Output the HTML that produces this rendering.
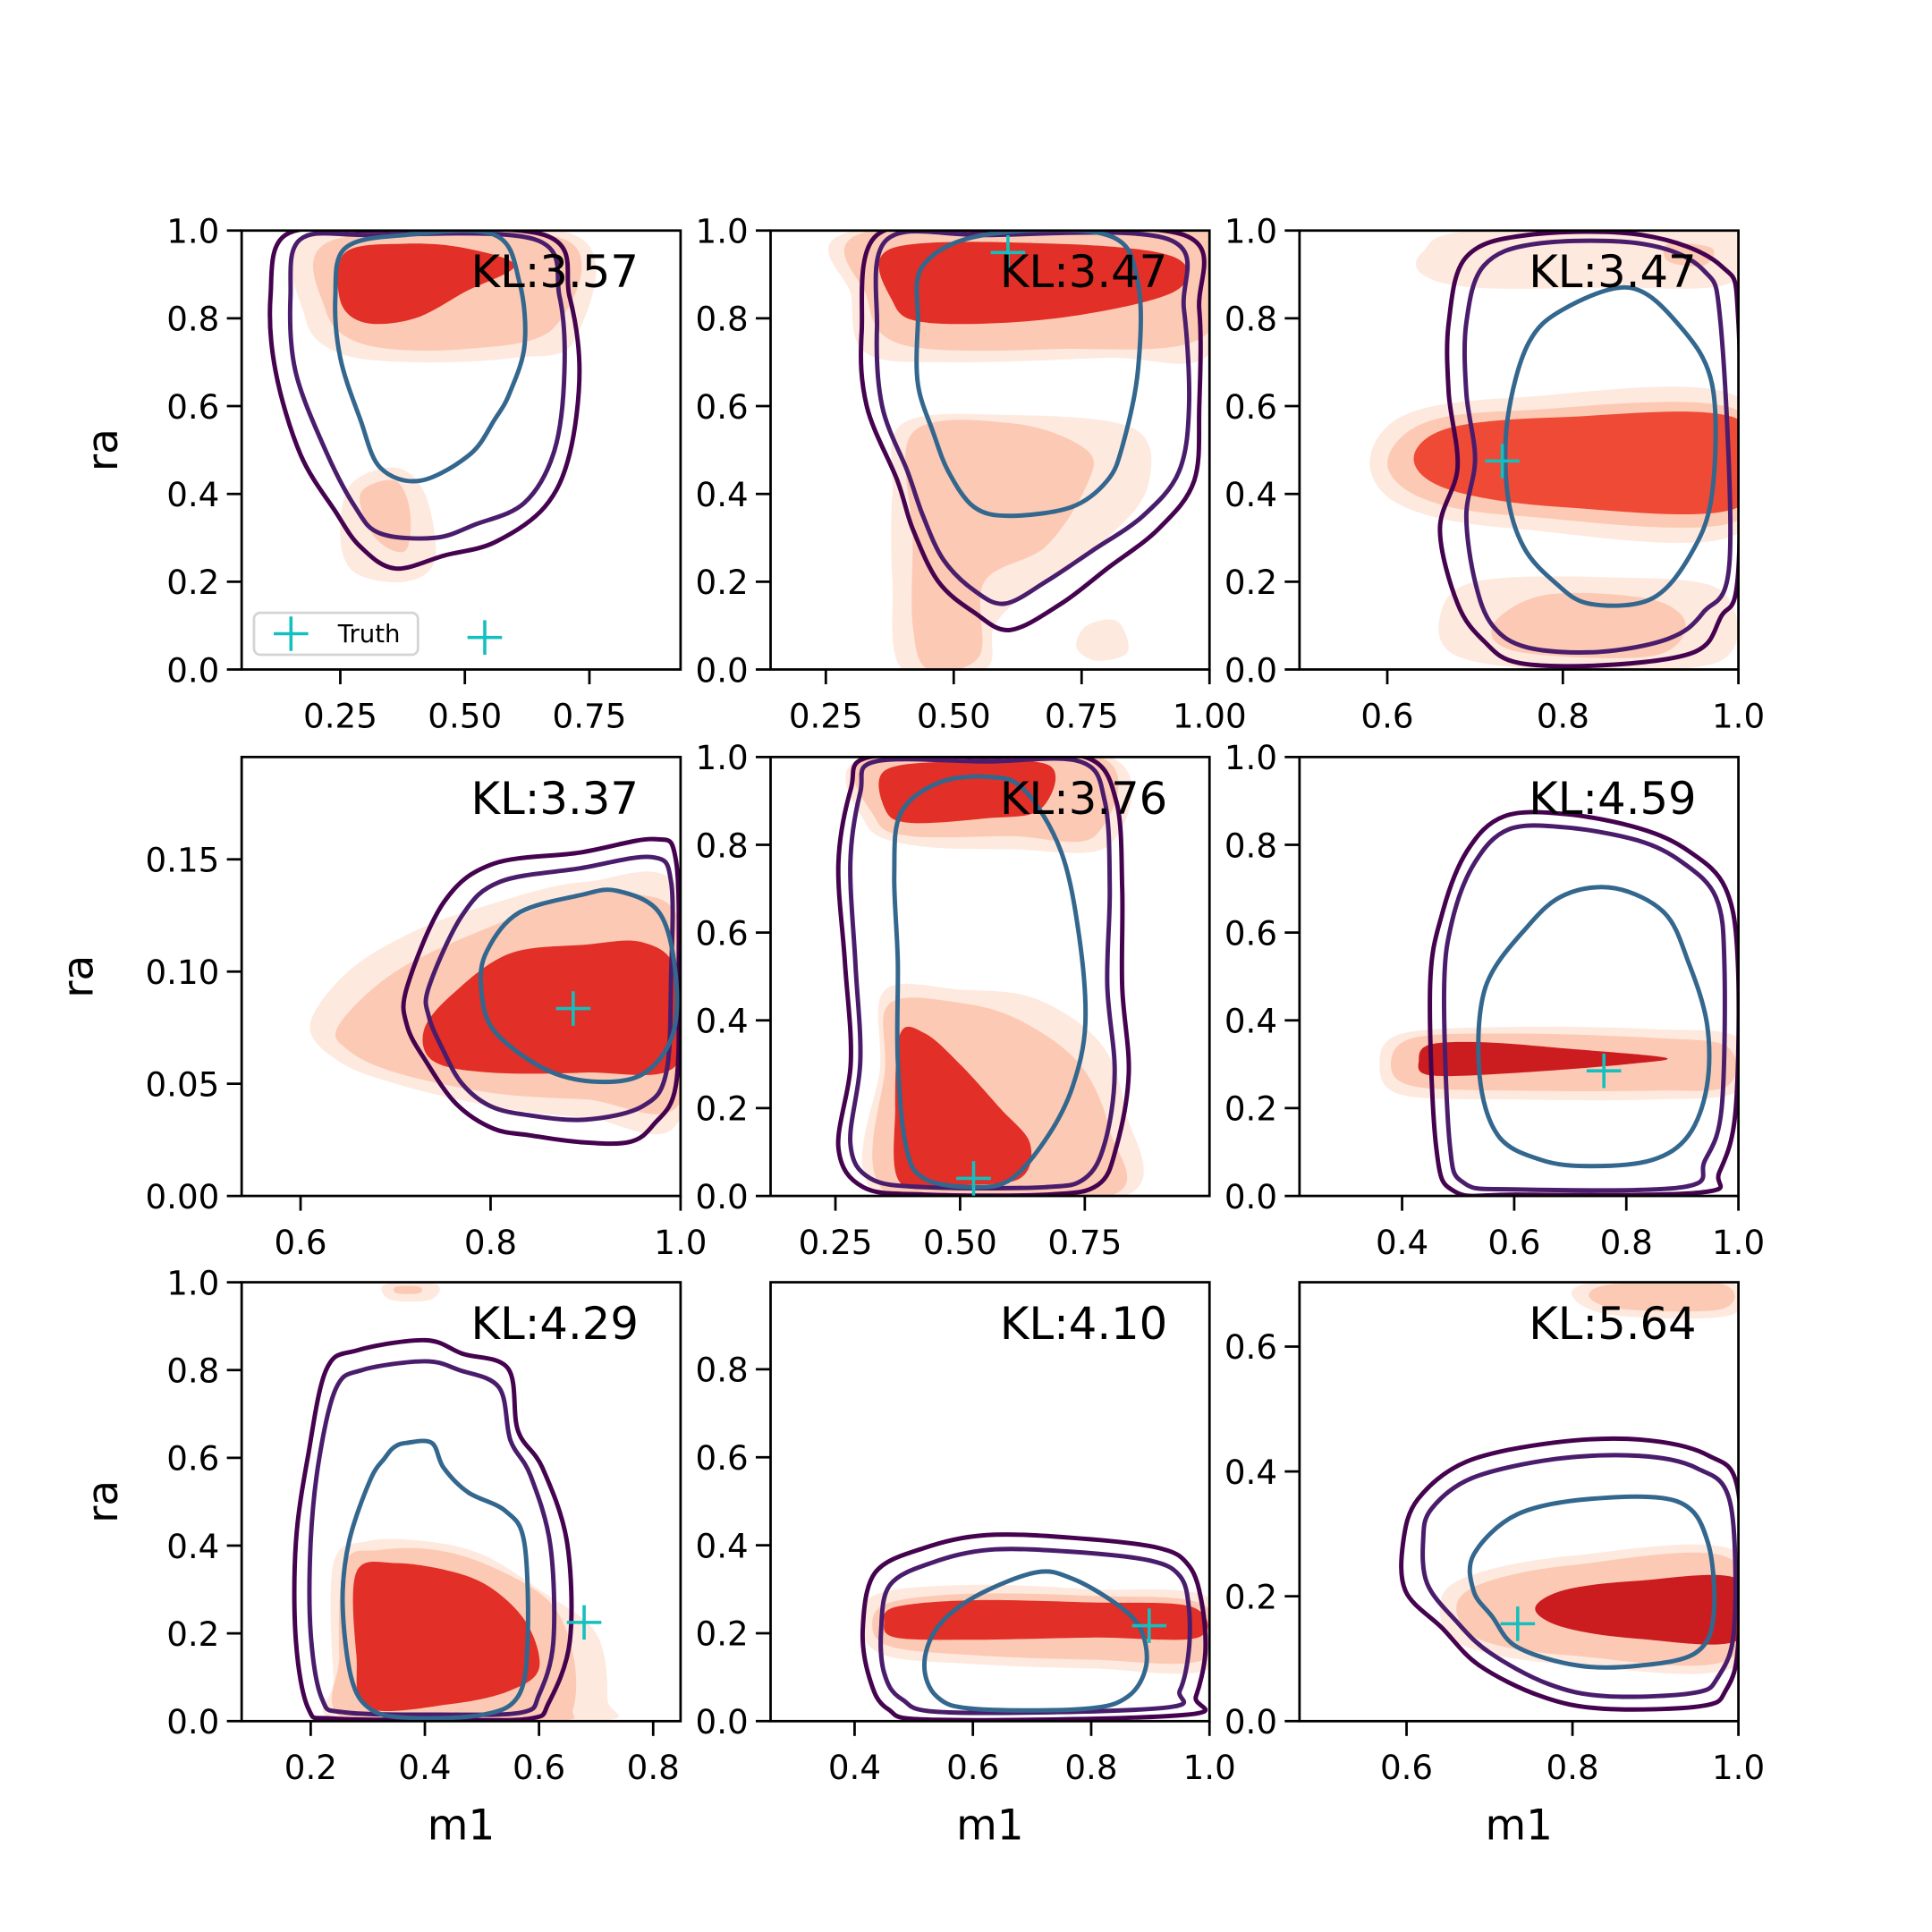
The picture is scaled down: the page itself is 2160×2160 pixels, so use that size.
<!DOCTYPE html>
<html><head><meta charset="utf-8"><title>Posterior contour grid</title>
<style>html,body{margin:0;padding:0;background:#fff}svg{display:block}text{font-family:"DejaVu Sans","Liberation Sans",sans-serif}</style>
</head><body>
<svg id="chart" xmlns="http://www.w3.org/2000/svg" width="2160" height="2160" viewBox="0 0 1567 1567"></svg>
<script>
// ---- data ----
const klValues = ["3.57","3.47","3.47","3.37","3.76","4.59","4.29","4.10","5.64"];
const truthX = [0.54,0.606,0.731,0.887,0.527,0.76,0.679,0.898,0.734];
const truthY = [0.073,0.95,0.475,0.0835,0.04,0.285,0.225,0.217,0.156];
const xLims = [[0.052,0.933],[0.142,1.0],[0.5,1.0],[0.538,1.0],[0.12,1.0],[0.217,1.0],[0.079,0.848],[0.258,1.0],[0.471,1.0]];
const yLims = [[0,1],[0,1],[0,1],[0,0.1956],[0,1],[0,1],[0,1],[0,0.998],[0,0.703]];
const xTicks = [[0.25,0.5,0.75],[0.25,0.5,0.75,1.0],[0.6,0.8,1.0],[0.6,0.8,1.0],[0.25,0.5,0.75],[0.4,0.6,0.8,1.0],[0.2,0.4,0.6,0.8],[0.4,0.6,0.8,1.0],[0.6,0.8,1.0]];
const xTickLabels = [["0.25","0.50","0.75"],["0.25","0.50","0.75","1.00"],["0.6","0.8","1.0"],["0.6","0.8","1.0"],["0.25","0.50","0.75"],["0.4","0.6","0.8","1.0"],["0.2","0.4","0.6","0.8"],["0.4","0.6","0.8","1.0"],["0.6","0.8","1.0"]];
const yStd = [0,0.2,0.4,0.6,0.8,1.0];
const yStdLabels = ["0.0","0.2","0.4","0.6","0.8","1.0"];
const yTicks = [yStd,yStd,yStd,[0,0.05,0.1,0.15],yStd,yStd,yStd,[0,0.2,0.4,0.6,0.8],[0,0.2,0.4,0.6]];
const yTickLabels = [yStdLabels,yStdLabels,yStdLabels,["0.00","0.05","0.10","0.15"],yStdLabels,yStdLabels,yStdLabels,["0.0","0.2","0.4","0.6","0.8"],["0.0","0.2","0.4","0.6"]];

const outerContours = [
 [[.14,.99],[.31,1.0],[.66,.99],[.71,.85],[.73,.68],[.71,.49],[.66,.37],[.56,.29],[.46,.26],[.36,.23],[.29,.28],[.24,.36],[.17,.49],[.12,.68],[.11,.85]],
 [[.35,.99],[.56,1.0],[.95,.99],[.98,.82],[.98,.6],[.97,.43],[.9,.32],[.8,.23],[.71,.15],[.61,.09],[.54,.13],[.47,.2],[.42,.32],[.39,.43],[.33,.6],[.32,.77]],
 [[.69,.94],[.76,.99],[.89,.99],[.98,.92],[1.0,.79],[1.0,.23],[.98,.12],[.95,.04],[.85,.01],[.75,.015],[.71,.065],[.68,.15],[.66,.32],[.68,.46],[.67,.63],[.67,.79]],
 [[.712,.093],[.751,.131],[.803,.148],[.894,.153],[.972,.159],[.995,.15],[.998,.098],[.995,.049],[.972,.032],[.946,.024],[.894,.024],[.842,.027],[.803,.03],[.764,.041],[.732,.06],[.712,.076]],
 [[.281,.927],[.318,1],[.553,1],[.751,1],[.813,.9],[.825,.7],[.825,.476],[.838,.279],[.813,.11],[.776,.025],[.677,.003],[.429,.003],[.306,.02],[.256,.11],[.281,.307],[.269,.532],[.256,.758]],
 [[.516,.786],[.582,.865],[.692,.87],[.824,.837],[.911,.786],[.977,.701],[.999,.532],[.995,.194],[.966,.054],[.933,.008],[.604,.003],[.494,.01],[.461,.11],[.45,.476],[.472,.645]],
 [[.228,.803],[.282,.845],[.401,.868],[.466,.837],[.546,.803],[.563,.662],[.606,.577],[.649,.408],[.654,.183],[.617,.042],[.584,.006],[.433,.003],[.239,.006],[.196,.028],[.174,.183],[.174,.408],[.196,.61]],
 [[.435,.338],[.518,.394],[.623,.423],[.768,.417],[.914,.394],[.966,.352],[.987,.268],[.993,.155],[.977,.056],[.956,.014],[.539,.003],[.456,.028],[.425,.099],[.414,.211]],
 [[.614,.356],[.673,.416],[.777,.446],[.881,.451],[.963,.426],[1.0,.366],[1.0,.129],[.985,.05],[.955,.024],[.837,.02],[.762,.04],[.688,.089],[.643,.149],[.599,.208],[.596,.287]]
];
const middleContours = [
 [[.17,.98],[.31,.99],[.64,.98],[.69,.85],[.70,.68],[.68,.5],[.62,.38],[.52,.33],[.44,.3],[.33,.31],[.28,.37],[.22,.5],[.16,.68],[.15,.85]],
 [[.37,.98],[.56,.99],[.92,.98],[.95,.82],[.96,.6],[.94,.45],[.87,.35],[.77,.27],[.68,.2],[.6,.15],[.54,.18],[.48,.25],[.44,.35],[.41,.45],[.36,.6],[.35,.78]],
 [[.71,.92],[.77,.97],[.89,.97],[.96,.91],[.98,.78],[.99,.25],[.96,.13],[.92,.07],[.84,.04],[.76,.05],[.72,.1],[.7,.2],[.69,.35],[.7,.48],[.69,.63],[.69,.79]],
 [[.735,.093],[.77,.125],[.81,.14],[.894,.146],[.97,.151],[.99,.14],[.99,.098],[.985,.055],[.96,.04],[.9,.034],[.84,.036],[.8,.04],[.77,.05],[.75,.065],[.735,.08]],
 [[.3,.92],[.33,.99],[.55,.99],[.74,.99],[.79,.9],[.8,.7],[.795,.48],[.81,.28],[.79,.12],[.75,.04],[.67,.02],[.43,.02],[.32,.04],[.28,.12],[.3,.31],[.29,.53],[.28,.76]],
 [[.53,.76],[.59,.835],[.69,.84],[.82,.81],[.9,.76],[.96,.68],[.975,.53],[.97,.2],[.94,.08],[.9,.02],[.6,.015],[.51,.03],[.485,.12],[.475,.47],[.49,.63]],
 [[.245,.76],[.29,.8],[.4,.82],[.46,.8],[.53,.76],[.55,.64],[.585,.56],[.62,.4],[.625,.18],[.6,.06],[.57,.02],[.43,.015],[.26,.02],[.22,.05],[.2,.2],[.2,.41],[.215,.6]],
 [[.46,.31],[.53,.36],[.63,.39],[.77,.385],[.9,.365],[.95,.33],[.965,.26],[.965,.16],[.95,.07],[.92,.03],[.56,.02],[.48,.05],[.45,.11],[.445,.21]],
 [[.63,.34],[.68,.39],[.78,.42],[.88,.425],[.95,.405],[.99,.35],[.995,.15],[.975,.07],[.945,.045],[.84,.04],[.77,.06],[.7,.11],[.66,.16],[.625,.22],[.62,.29]]
];
const innerContours = [
 [[.26,.96],[.38,.99],[.56,.99],[.61,.88],[.62,.74],[.59,.63],[.56,.57],[.51,.49],[.41,.43],[.33,.46],[.29,.57],[.25,.71],[.24,.85]],
 [[.44,.92],[.56,.99],[.8,.99],[.86,.88],[.86,.68],[.83,.51],[.8,.43],[.73,.37],[.61,.35],[.54,.37],[.49,.45],[.46,.54],[.43,.65],[.43,.79]],
 [[.76,.74],[.8,.82],[.875,.87],[.93,.79],[.97,.65],[.97,.4],[.945,.26],[.9,.16],[.83,.15],[.79,.2],[.755,.28],[.737,.4],[.737,.57]],
 [[.796,.109],[.829,.126],[.894,.134],[.933,.136],[.978,.126],[.995,.098],[.991,.071],[.959,.054],[.907,.051],[.855,.057],[.803,.074],[.79,.093]],
 [[.38,.87],[.454,.94],[.553,.955],[.627,.927],[.702,.786],[.739,.589],[.751,.392],[.726,.251],[.677,.138],[.603,.039],[.528,.02],[.429,.039],[.392,.11],[.375,.307],[.375,.532],[.368,.73]],
 [[.626,.617],[.692,.687],[.78,.701],[.868,.645],[.911,.532],[.944,.392],[.944,.251],[.911,.138],[.846,.082],[.736,.068],[.648,.082],[.571,.138],[.538,.279],[.549,.476]],
 [[.267,.408],[.304,.549],[.33,.6],[.347,.625],[.368,.634],[.412,.634],[.433,.577],[.476,.521],[.541,.479],[.574,.408],[.58,.183],[.563,.056],[.498,.014],[.368,.008],[.304,.028],[.271,.099],[.256,.268]],
 [[.539,.211],[.602,.282],[.706,.338],[.768,.324],[.841,.268],[.883,.211],[.893,.127],[.862,.056],[.789,.028],[.602,.028],[.539,.056],[.518,.127]],
 [[.681,.267],[.733,.331],[.822,.356],[.926,.352],[.963,.287],[.97,.168],[.948,.109],[.881,.089],[.807,.089],[.733,.119],[.703,.168],[.681,.208]]
];
const lightFills = [
 [[[.2,.99],[.72,.99],[.72,.75],[.6,.71],[.4,.7],[.25,.72],[.18,.8]],[[.27,.42],[.36,.46],[.42,.4],[.44,.25],[.38,.2],[.28,.22],[.25,.3]]],
 [[[.31,1],[1,1],[1,.72],[.8,.71],[.5,.7],[.33,.72],[.3,.85]],[[.4,.56],[.6,.58],[.85,.55],[.88,.42],[.8,.3],[.65,.18],[.58,.1],[.56,0],[.4,0],[.38,.2],[.38,.4]],[[.76,.1],[.82,.11],[.84,.04],[.78,.02],[.74,.05]]],
 [[[.58,.47],[.62,.58],[.75,.62],[1,.62],[1,.31],[.75,.32],[.62,.37]],[[.64,.95],[.7,1],[.99,1],[.99,.88],[.85,.87],[.7,.87],[.64,.9]],[[.66,.12],[.7,.2],[.85,.21],[.98,.18],[.98,.02],[.8,0],[.68,.03]]],
 [[[.61,.076],[.65,.1],[.72,.118],[.8,.13],[.9,.14],[1,.135],[1,.035],[.9,.035],[.8,.04],[.7,.05],[.64,.06]]],
 [[[.31,1],[.8,1],[.8,.8],[.6,.79],[.4,.8],[.31,.85]],[[.35,.47],[.5,.47],[.65,.45],[.78,.35],[.83,.2],[.83,0],[.34,0],[.34,.3]]],
 [[[.36,.3],[.4,.37],[.6,.385],[.85,.38],[1,.36],[1,.24],[.85,.22],[.6,.22],[.4,.23]]],
 [[[.24,.36],[.3,.41],[.4,.41],[.5,.38],[.6,.3],[.7,.2],[.72,.05],[.7,0],[.26,0],[.24,.1]],[[.33,.995],[.42,.995],[.41,.96],[.34,.96]]],
 [[[.41,.22],[.44,.29],[.6,.31],[.8,.3],[1,.28],[1,.12],[.8,.12],[.6,.13],[.45,.15]]],
 [[[.64,.18],[.67,.23],[.8,.265],[1,.27],[1,.09],[.8,.09],[.67,.12]],[[.8,.68],[.83,.703],[.99,.703],[.99,.65],[.85,.65]]]
];
const midFills = [
 [[[.24,.98],[.7,.98],[.68,.78],[.5,.73],[.3,.74],[.22,.82]],[[.29,.4],[.36,.43],[.39,.36],[.38,.27],[.32,.3]]],
 [[[.34,1],[.99,1],[.99,.76],[.7,.73],[.4,.74],[.33,.85]],[[.42,.54],[.62,.56],[.76,.5],[.76,.42],[.68,.28],[.56,.2],[.55,.03],[.45,0],[.42,.1],[.42,.3]]],
 [[[.6,.47],[.64,.56],[.75,.59],[1,.59],[1,.34],[.75,.35],[.64,.39]],[[.92,.97],[.97,.96],[.96,.92],[.92,.93]],[[.72,.1],[.78,.17],[.9,.16],[.94,.1],[.9,.03],[.75,.04]]],
 [[[.64,.076],[.7,.1],[.8,.12],[.9,.135],[.95,.135],[1,.12],[1,.042],[.9,.043],[.8,.046],[.7,.055],[.65,.065]]],
 [[[.32,1],[.78,1],[.77,.82],[.6,.82],[.4,.82],[.33,.86]],[[.36,.44],[.5,.44],[.62,.4],[.74,.3],[.8,.15],[.8,0],[.36,0],[.35,.3]]],
 [[[.38,.3],[.42,.36],[.6,.37],[.85,.36],[.98,.34],[.98,.25],[.85,.24],[.6,.24],[.42,.25]]],
 [[[.26,.36],[.32,.39],[.42,.39],[.52,.35],[.62,.27],[.66,.15],[.66,.03],[.62,0],[.27,0],[.25,.15]],[[.35,.99],[.39,.99],[.39,.975],[.35,.975]]],
 [[[.43,.22],[.46,.27],[.6,.29],[.8,.285],[.99,.265],[.99,.14],[.8,.14],[.6,.15],[.46,.17]]],
 [[[.66,.18],[.69,.22],[.8,.25],[.99,.26],[.99,.1],[.8,.105],[.69,.13]],[[.82,.68],[.85,.7],[.98,.7],[.98,.66],[.86,.66]]]
];
const darkFills = [
 [[[.26,.95],[.38,.97],[.5,.96],[.6,.92],[.5,.86],[.4,.8],[.3,.79],[.25,.84]]],
 [[[.38,.96],[.7,.97],[.93,.94],[.93,.86],[.7,.8],[.45,.79],[.38,.84]]],
 [[[.63,.48],[.67,.55],[.8,.575],[1,.57],[1,.37],[.8,.37],[.67,.41]]],
 [[[.73,.074],[.76,.09],[.82,.108],[.9,.112],[.96,.113],[.995,.1],[.995,.058],[.9,.055],[.8,.055],[.74,.06]]],
 [[[.35,.97],[.5,.99],[.68,.98],[.66,.88],[.55,.86],[.4,.85],[.35,.88]],[[.38,.37],[.43,.37],[.5,.3],[.58,.2],[.64,.12],[.62,.04],[.5,.025],[.38,.03],[.37,.2]]],
 [[[.43,.31],[.45,.345],[.55,.35],[.7,.335],[.87,.315],[.8,.3],[.6,.28],[.45,.275]]],
 [[[.28,.34],[.35,.36],[.45,.34],[.52,.3],[.58,.22],[.6,.12],[.55,.07],[.45,.04],[.3,.03],[.28,.15]]],
 [[[.45,.225],[.47,.26],[.6,.275],[.8,.27],[.97,.26],[.98,.19],[.8,.19],[.6,.185],[.47,.19]]],
 [[[.755,.18],[.79,.21],[.88,.225],[1,.227],[1,.13],[.88,.132],[.79,.15]]]
];

// ---- layout ----
const colX = [196,625,1054], rowY = [187,614,1040], W = 356, H = 356;
const darkColors = ["#e22f27","#e22f27","#ef4a36","#e22f27","#e22f27","#cb1d1f","#e22f27","#e22f27","#cb1d1f"];
const NS = "http://www.w3.org/2000/svg";
const svg = document.getElementById("chart");
function mk(tag, attrs, parent){ const e=document.createElementNS(NS,tag); for(const k in attrs) e.setAttribute(k,attrs[k]); (parent||svg).appendChild(e); return e; }
function smoothPath(pts){
  const n=pts.length; let d="M"+pts[0][0].toFixed(1)+","+pts[0][1].toFixed(1);
  for(let i=0;i<n;i++){
    const p0=pts[(i-1+n)%n],p1=pts[i],p2=pts[(i+1)%n],p3=pts[(i+2)%n];
    const c1=[p1[0]+(p2[0]-p0[0])/6,p1[1]+(p2[1]-p0[1])/6];
    const c2=[p2[0]-(p3[0]-p1[0])/6,p2[1]-(p3[1]-p1[1])/6];
    d+="C"+c1[0].toFixed(1)+","+c1[1].toFixed(1)+" "+c2[0].toFixed(1)+","+c2[1].toFixed(1)+" "+p2[0].toFixed(1)+","+p2[1].toFixed(1);
  }
  return d+"Z";
}
const defs = mk("defs",{});
for(let p=0;p<9;p++){
  const L=colX[p%3], T=rowY[Math.floor(p/3)];
  const xs=v=>L+(v-xLims[p][0])/(xLims[p][1]-xLims[p][0])*W;
  const ys=v=>T+H-(v-yLims[p][0])/(yLims[p][1]-yLims[p][0])*H;
  const cp=mk("clipPath",{id:"clip"+p},defs); mk("rect",{x:L,y:T,width:W,height:H},cp);
  const g=mk("g",{"clip-path":"url(#clip"+p+")"});
  
  
  const toPx=pts=>pts.map(q=>[xs(q[0]),ys(q[1])]);
  const layers=[[lightFills[p],"#fee9df"],[midFills[p],"#fccab4"],[darkFills[p],darkColors[p]]];
  layers.forEach((ly,li)=>{ ly[0].forEach((poly,k)=>{
    const e=mk("path",{d:smoothPath(toPx(poly)),fill:ly[1],stroke:"none"},g);
    
    
  });});
  [[outerContours[p],"#45034f"],[middleContours[p],"#4a1d6c"],[innerContours[p],"#33678e"]].forEach((c,ci)=>{
    const e=mk("path",{d:smoothPath(toPx(c[0])),fill:"none",stroke:c[1],"stroke-width":3.6},g);
    
    
  });
  const sp=mk("rect",{x:L,y:T,width:W,height:H,fill:"none",stroke:"#000","stroke-width":2});
  
  
  xTicks[p].forEach((v,i)=>{
    const x=xs(v);
    const tk=mk("line",{x1:x,y1:T+H,x2:x,y2:T+H+12,stroke:"#000","stroke-width":2});
    
    
    const t=mk("text",{x:x,y:T+H+47,"text-anchor":"middle","font-size":27});
    t.textContent=xTickLabels[p][i];
    
    
  });
  yTicks[p].forEach((v,i)=>{
    const y=ys(v);
    const tk=mk("line",{x1:L-12,y1:y,x2:L,y2:y,stroke:"#000","stroke-width":2});
    
    
    const t=mk("text",{x:L-18,y:y+10,"text-anchor":"end","font-size":27});
    t.textContent=yTickLabels[p][i];
    
    
  });
  const tx=xs(truthX[p]), ty=ys(truthY[p]);
  const tm=mk("path",{d:`M${tx-14},${ty}H${tx+14}M${tx},${ty-14}V${ty+14}`,stroke:"#14bfbf","stroke-width":2.6,fill:"none"});
  
  
  const kl=mk("text",{x:L+186,y:T+46,"font-size":36});
  kl.textContent="KL:"+klValues[p];
  
  
}
const lg=mk("g",{});


mk("rect",{x:206,y:497,width:133,height:34,rx:5,fill:"#fff","fill-opacity":0.8,stroke:"#d4d4d4","stroke-width":2},lg);
mk("path",{d:"M222,514H250M236,500V528",stroke:"#14bfbf","stroke-width":2.6},lg);
const lt=mk("text",{x:274,y:521,"font-size":20},lg); lt.textContent="Truth";


[[95,365],[75,792],[95,1218]].forEach(c=>{
  const t=mk("text",{x:c[0],y:c[1],"font-size":34,"text-anchor":"middle",transform:`rotate(-90 ${c[0]} ${c[1]})`});
  t.textContent="ra";
  
  
});
[374,803,1232].forEach(cx=>{
  const t=mk("text",{x:cx,y:1492,"font-size":34,"text-anchor":"middle"});
  t.textContent="m1";
  
  
});
</script>
</body></html>
